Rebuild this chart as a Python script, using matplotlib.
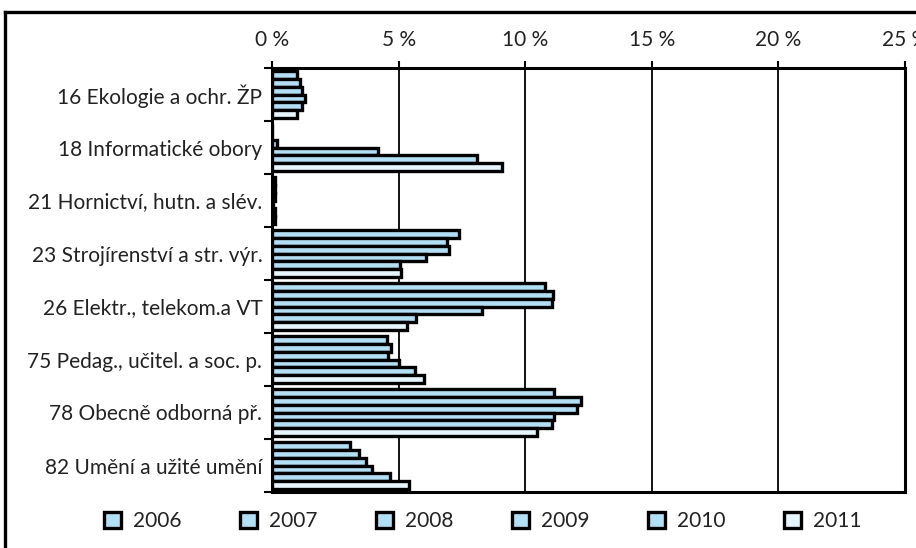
import matplotlib
matplotlib.use("Agg")
import matplotlib.pyplot as plt
from matplotlib.lines import Line2D
import numpy as np

plt.rcParams['font.family'] = ['Lato', 'DejaVu Sans']

categories = ["16 Ekologie a ochr. ŽP", "18 Informatické obory", "21 Hornictví, hutn. a slév.",
              "23 Strojírenství a str. výr.", "26 Elektr., telekom.a VT", "75 Pedag., učitel. a soc. p.",
              "78 Obecně odborná př.", "82 Umění a užité umění"]
years = ["2006", "2007", "2008", "2009", "2010", "2011"]

# values in %, one list per year, same order as categories
v2006 = [1.0, 0.0, 0.1, 7.4, 10.8, 4.55, 11.15, 3.1]
v2007 = [1.1, 0.0, 0.1, 6.9, 11.1, 4.7, 12.2, 3.45]
v2008 = [1.2, 0.2, 0.1, 7.0, 11.05, 4.6, 12.05, 3.7]
v2009 = [1.3, 4.2, 0.05, 6.1, 8.3, 5.0, 11.15, 3.95]
v2010 = [1.2, 8.1, 0.1, 5.05, 5.7, 5.65, 11.05, 4.65]
v2011 = [1.0, 9.1, 0.1, 5.1, 5.35, 6.0, 10.45, 5.4]
series = [v2006, v2007, v2008, v2009, v2010, v2011]

colors = ["#b3dff5"] * 5 + ["#e6f4fc"]
txt = "#222222"

fig = plt.figure(figsize=(9.16, 5.48), dpi=100)
ax = fig.add_axes([272/916, 1-492/548, (905-272)/916, (492-68)/548])

n = len(categories)
bh = 0.145
for j, vals in enumerate(series):
    ys = np.arange(n) + 0.5 + (j - 2.5) * bh
    ax.barh(ys, vals, height=bh, color=colors[j], edgecolor="black", linewidth=2.4, label=years[j], zorder=3)

ax.set_xlim(0, 25)
ax.set_ylim(n, 0)
ax.set_xticks([0, 5, 10, 15, 20, 25])
ax.set_xticklabels([f"{t} %" for t in [0, 5, 10, 15, 20, 25]])
ax.xaxis.tick_top()
ax.tick_params(axis="x", length=5, width=1.5, labelsize=15, pad=8, direction="out", labelcolor=txt)
ax.grid(axis="x", color="black", linewidth=1.3, zorder=0)

ax.set_yticks(np.arange(n) + 0.5)
ax.set_yticklabels(categories)
ax.set_yticks(np.arange(n + 1), minor=True)
ax.tick_params(axis="y", which="major", length=0, labelsize=15, pad=7, labelcolor=txt)
ax.tick_params(axis="y", which="minor", length=6, width=1.5, direction="out")

for s in ax.spines.values():
    s.set_linewidth(2.2)

leg = fig.legend(loc="center", bbox_to_anchor=(0.527, 1-521/548), ncol=6, frameon=False,
                 handlelength=0.8, handleheight=0.8, columnspacing=2.8, fontsize=15, handletextpad=0.6,
                 labelcolor=txt)

# outer frame
fig.add_artist(Line2D([5/916, 5/916], [0, 1-12/548], transform=fig.transFigure, color="black", linewidth=2.4))
fig.add_artist(Line2D([5/916, 1], [1-12/548, 1-12/548], transform=fig.transFigure, color="black", linewidth=2.4))

fig.savefig("out.png", dpi=100)
